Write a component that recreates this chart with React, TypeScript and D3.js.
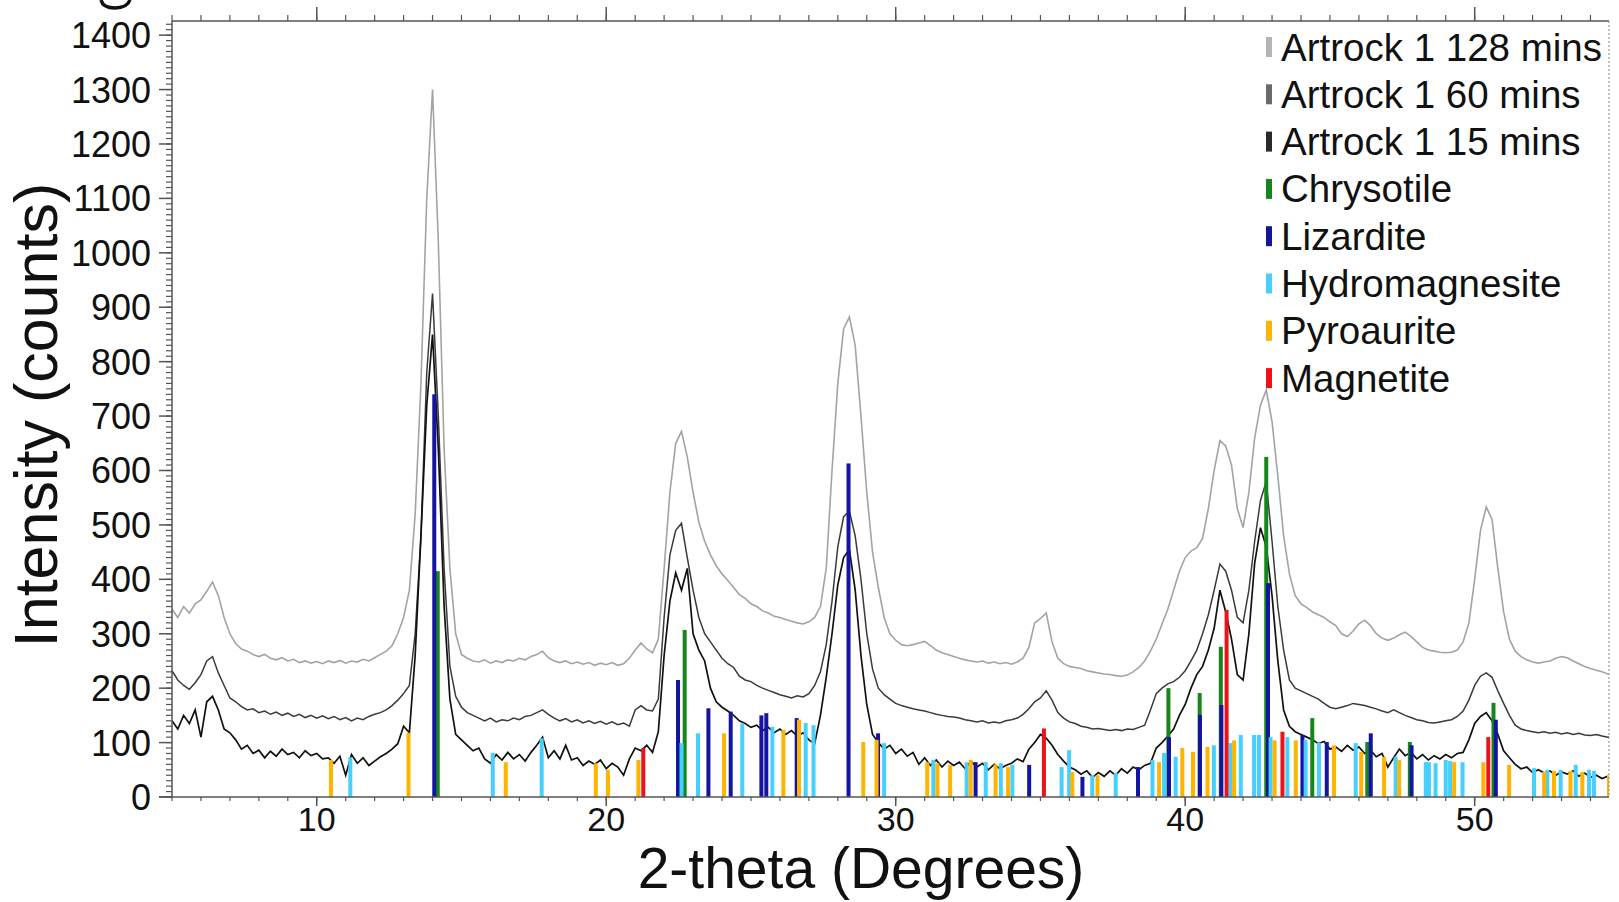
import React from 'react';
import * as d3 from 'd3';

// ---------- data ----------
const X_START = 5;
const X_STEP = 0.2;

const trace128 = [
  345,330,350,338,355,362,378,395,370,330,300,282,272,268,262,258,262,255,252,256,
  250,253,247,250,246,249,245,250,247,251,246,250,248,253,250,256,262,268,278,300,
  330,380,520,760,1100,1300,1020,640,420,300,262,255,250,248,252,246,250,247,252,250,
  255,252,258,262,268,256,250,247,250,245,248,244,247,242,246,243,247,242,245,255,
  270,283,272,265,290,420,560,650,672,625,560,505,470,445,425,410,398,385,372,365,
  355,350,342,338,332,330,326,323,320,318,322,330,350,420,600,760,860,882,830,700,
  560,450,385,330,300,288,280,278,280,283,286,278,270,265,262,258,255,252,250,248,
  250,246,248,245,247,244,248,255,275,320,328,338,285,255,245,240,238,236,232,230,
  228,226,225,223,222,224,230,238,250,268,290,318,345,380,415,440,452,458,475,530,
  600,655,645,610,530,495,560,660,720,748,690,590,480,410,370,355,348,340,335,330,
  322,315,300,295,305,318,325,315,300,292,288,292,298,303,295,285,275,270,268,266,
  265,266,270,285,320,400,490,533,510,420,340,290,268,258,252,248,246,248,250,255,
  258,256,250,245,240,236,233,230,226,222,220,
];

const trace60 = [
  232,215,205,198,210,225,250,258,228,205,182,175,166,160,162,155,158,152,156,150,
  154,148,152,146,150,145,149,144,148,142,146,140,145,142,148,152,155,160,168,178,
  190,205,300,480,780,925,700,420,240,185,165,155,150,145,140,145,138,142,140,145,
  142,148,150,155,160,152,145,140,144,138,142,136,140,135,139,134,138,133,136,130,
  160,168,160,158,180,330,445,490,503,440,380,330,300,285,270,255,245,238,222,215,
  212,205,200,196,192,188,185,182,186,184,190,205,230,280,360,460,515,525,480,400,
  300,235,200,188,180,172,168,165,162,160,158,155,152,150,148,147,145,142,140,138,
  140,136,138,136,140,142,145,152,162,175,182,195,178,155,145,138,135,130,128,125,
  126,124,122,124,122,125,124,128,132,160,190,200,208,212,220,232,250,270,300,335,
  380,428,415,380,330,320,380,470,545,580,470,350,270,215,200,195,190,185,180,172,
  165,162,165,168,172,170,168,165,162,158,155,160,155,150,146,142,140,137,136,138,
  140,142,148,158,178,205,222,228,220,195,172,150,132,125,122,120,118,120,117,119,
  116,118,115,117,114,113,115,112,110,111,108,
];

const trace15 = [
  140,125,150,135,160,110,175,185,160,125,118,105,88,95,80,86,72,84,75,88,
  78,82,72,85,76,80,70,72,62,75,40,78,62,72,58,66,74,80,88,98,
  130,118,260,480,720,850,640,350,180,115,105,95,85,90,70,62,78,68,82,70,
  78,66,82,95,110,72,85,70,95,68,72,58,66,60,68,52,62,55,40,70,
  90,85,95,82,120,260,360,412,380,420,300,270,250,200,175,165,158,150,140,135,
  128,132,122,128,118,125,115,122,112,118,105,98,150,220,300,390,440,455,380,260,
  170,115,100,88,95,80,88,75,82,60,72,58,68,55,66,58,64,52,66,55,
  62,50,60,52,58,62,70,65,88,100,115,108,95,78,66,55,50,42,48,36,
  45,38,48,40,52,44,55,50,58,62,90,100,112,125,150,170,200,225,240,270,
  310,380,340,290,225,215,300,430,495,460,370,250,160,130,120,115,110,105,98,102,
  88,92,84,95,86,92,80,86,74,80,55,72,88,76,82,70,78,68,76,70,
  78,72,80,82,105,135,148,155,140,115,85,72,60,52,55,45,50,44,48,40,
  46,42,48,38,44,36,40,34,38,30,32,
];

// stick patterns: [2-theta, intensity]
const chrysotile: [number, number][] = [
  [14.18,415],[22.71,307],[39.42,200],[40.50,191],[41.23,276],[42.80,625],
  [44.39,145],[46.29,101],[47.76,101],[50.65,173],
];
const lizardite: [number, number][] = [
  [14.06,740],[22.48,215],[23.53,163],[24.30,157],[25.36,150],[25.53,154],
  [26.58,145],[28.37,613],[29.39,117],[32.76,64],[34.61,59],[36.45,37],
  [38.37,55],[39.44,110],[40.51,151],[41.25,169],[42.86,393],[44.05,114],
  [44.89,101],[46.41,117],[47.82,95],[50.73,142],
];
const hydromagnesite: [number, number][] = [
  [11.16,73],[16.08,81],[17.77,108],[22.60,99],[23.17,117],[24.70,135],
  [25.74,129],[26.89,136],[27.16,132],[29.60,99],[31.30,68],[32.45,64],
  [33.11,64],[33.63,62],[34.03,59],[35.73,55],[35.99,86],[36.79,40],
  [37.60,44],[38.87,68],[39.27,81],[39.67,74],[40.99,95],[41.57,99],
  [41.92,114],[42.38,114],[42.55,114],[42.95,110],[43.53,110],[44.16,105],
  [44.62,100],[45.89,99],[47.27,74],[48.31,64],[48.42,64],[48.65,62],
  [49.00,68],[49.15,66],[49.58,64],[52.05,53],[52.51,50],[52.97,50],
  [53.49,59],[53.95,50],[54.12,48],
];
const pyroaurite: [number, number][] = [
  [10.49,68],[13.17,118],[16.53,64],[19.64,62],[20.06,50],[21.11,68],
  [24.07,117],[26.12,123],[26.66,142],[28.88,101],[29.34,105],[31.09,64],
  [31.44,62],[31.88,59],[32.59,68],[33.45,60],[33.88,55],[36.10,46],
  [36.97,40],[39.10,64],[39.90,90],[40.27,83],[40.77,92],[41.69,104],
  [43.09,104],[43.82,104],[45.14,95],[46.08,83],[46.87,74],[47.39,68],
  [49.29,64],[50.30,64],[51.19,59],[52.40,46],[52.74,48],[53.31,48],
  [53.72,46],[54.64,40],
];
const magnetite: [number, number][] = [
  [21.28,90],[35.12,126],[41.43,344],[43.36,120],[50.47,110],
];

const legendLabels = [
  'Artrock 1 128 mins','Artrock 1 60 mins','Artrock 1 15 mins',
  'Chrysotile','Lizardite','Hydromagnesite','Pyroaurite','Magnetite',
];
const legendColors = ['#b4b4b4','#6a6a6a','#2a2a2a','#17861a','#1414a0','#45d0ff','#ffb400','#e8141a'];

const yTicks = d3.range(0, 1401, 100);
const xMajor = [10, 20, 30, 40, 50];

// ---------- chart ----------
const W = 1619, H = 902;
const L = 172, R = 1609, T = 21, B = 797;

export default function App() {
  const x = d3.scaleLinear().domain([5, 54.64]).range([L, R]);
  const y = d3.scaleLinear().domain([0, 1426]).range([B, T]);
  const line = d3.line<number>()
    .x((_, i) => x(X_START + i * X_STEP))
    .y((v) => y(v));

  const minorX = d3.range(5, 55, 1);
  const minorY = d3.range(0, 1421, 10);

  const stickGroups: [string, [number, number][]][] = [
    ['#17861a', chrysotile],
    ['#1414a0', lizardite],
    ['#45d0ff', hydromagnesite],
    ['#ffb400', pyroaurite],
    ['#e8141a', magnetite],
  ];

  const font = 'Liberation Sans, Arial, Helvetica, sans-serif';
  const axisColor = '#555';

  return (
    <svg width={W} height={H} style={{ position: 'absolute', left: 0, top: 0, background: '#fff' }}
      fontFamily={font}>
      <defs>
        <clipPath id="plot">
          <rect x={L} y={T} width={R - L} height={B - T} />
        </clipPath>
      </defs>
      <rect x={0} y={0} width={W} height={H} fill="#fff" />

      {/* bottom of the cut-off panel letter */}
      <path d="M101,0 Q103,8 115,8 Q127,8 130,0" fill="none" stroke="#111" strokeWidth={3.5} />

      <g clipPath="url(#plot)">
        <path d={line(trace128) || ''} fill="none" stroke="#a3a3a3" strokeWidth={1.6} />
        <path d={line(trace60) || ''} fill="none" stroke="#3a3a3a" strokeWidth={1.5} />
        <path d={line(trace15) || ''} fill="none" stroke="#111" strokeWidth={1.7} />
        {stickGroups.map(([c, arr], gi) => (
          <g key={gi}>
            {arr.map(([p, v], i) => (
              <rect key={i} x={x(p) - 2} y={y(v)} width={4} height={B - y(v)} fill={c} />
            ))}
          </g>
        ))}
      </g>

      {/* frame */}
      <line x1={L} y1={T} x2={L} y2={B} stroke={axisColor} strokeWidth={1.5} />
      <line x1={L - 13} y1={B} x2={R} y2={B} stroke={axisColor} strokeWidth={1.5} />
      <line x1={L} y1={T} x2={R} y2={T} stroke={axisColor} strokeWidth={1.5} />
      <line x1={R} y1={T} x2={R} y2={B} stroke="#999" strokeWidth={1.2} strokeDasharray="2,2" />

      {/* y ticks */}
      {minorY.map((v) => (
        <line key={'my' + v} x1={L - 6} x2={L} y1={y(v)} y2={y(v)} stroke={axisColor} strokeWidth={1.2} />
      ))}
      {yTicks.map((v) => (
        <g key={'y' + v}>
          <line x1={L - 13} x2={L} y1={y(v)} y2={y(v)} stroke={axisColor} strokeWidth={1.5} />
          <text x={151} y={y(v)} dy="0.36em" textAnchor="end" fontSize={36} fill="#111">{v}</text>
        </g>
      ))}

      {/* x ticks bottom & top */}
      {minorX.map((v) => (
        <g key={'mx' + v}>
          <line x1={x(v)} x2={x(v)} y1={B} y2={B + 4} stroke={axisColor} strokeWidth={1.2} />
          <line x1={x(v)} x2={x(v)} y1={T} y2={T - 6} stroke={axisColor} strokeWidth={1.2} />
        </g>
      ))}
      {xMajor.map((v) => (
        <g key={'x' + v}>
          <line x1={x(v)} x2={x(v)} y1={B} y2={B + 9} stroke={axisColor} strokeWidth={1.5} />
          <line x1={x(v)} x2={x(v)} y1={T} y2={T - 14} stroke={axisColor} strokeWidth={1.5} />
          <text x={x(v)} y={831} textAnchor="middle" fontSize={34} fill="#111">{v}</text>
        </g>
      ))}

      {/* axis titles */}
      <text x={861} y={888} textAnchor="middle" fontSize={57} fill="#111">2-theta (Degrees)</text>
      <text transform={`translate(57,415) rotate(-90)`} textAnchor="middle" fontSize={61} fill="#111">
        Intensity (counts)
      </text>

      {/* legend */}
      {legendLabels.map((lab, i) => {
        const cy = 47 + i * 47.3;
        return (
          <g key={lab}>
            <rect x={1266} y={cy - 10} width={6} height={20} fill={legendColors[i]} />
            <text x={1281} y={cy + 13.5} fontSize={38.5} fill="#111">{lab}</text>
          </g>
        );
      })}
    </svg>
  );
}
